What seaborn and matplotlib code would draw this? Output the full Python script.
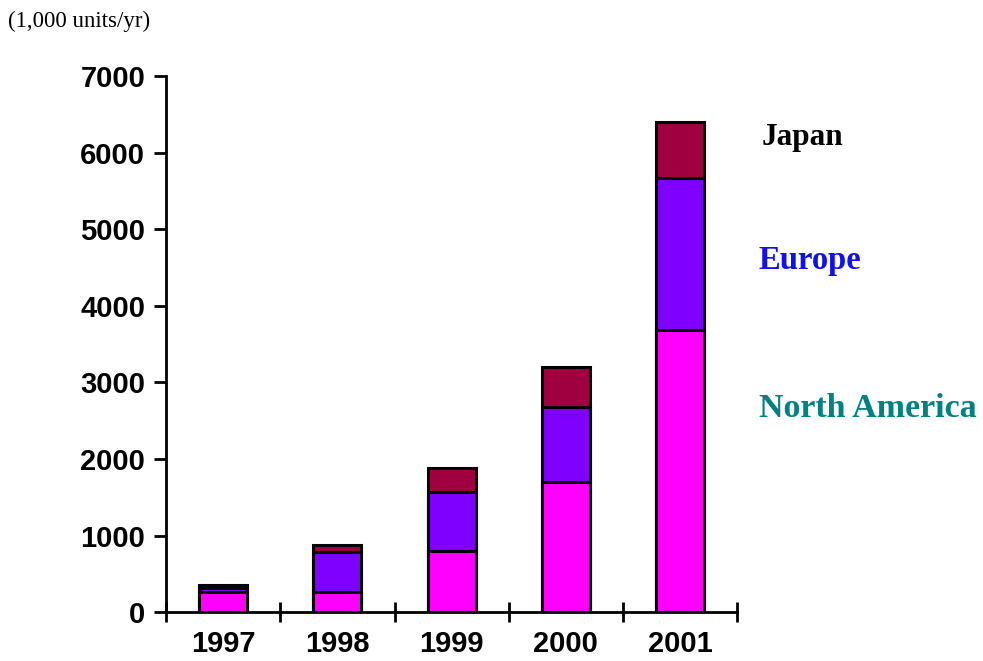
import numpy as np
import pandas as pd
from matplotlib import pyplot as plt
import seaborn as sns

years = ["1997", "1998", "1999", "2000", "2001"]
north_america = [260, 260, 800, 1700, 3680]
europe = [60, 520, 770, 980, 1990]
japan = [40, 90, 310, 520, 730]

sns.set_style("white")
plt.rcParams["font.family"] = ["Liberation Sans", "DejaVu Sans"]

df = pd.DataFrame({"year": years, "na": north_america, "eu": europe, "jp": japan})
df["na_eu"] = df["na"] + df["eu"]
df["total"] = df["na_eu"] + df["jp"]

fig = plt.figure(figsize=(9.83, 6.61), dpi=100)
ax = fig.add_axes([0.169, 0.074, 0.581, 0.811])

# stacked bars by overlaying cumulative totals
for col, color in [("total", "#A0003F"), ("na_eu", "#7F00FF"), ("na", "#FF00FF")]:
    sns.barplot(data=df, x="year", y=col, color=color, saturation=1, width=0.42,
                edgecolor="black", linewidth=2.2, ax=ax)

ax.set_xlim(-0.5, 4.5)
ax.set_ylim(0, 7000)
ax.set_yticks(np.arange(0, 7001, 1000))
ax.set_xlabel("")
ax.set_ylabel("")

for s in ["top", "right"]:
    ax.spines[s].set_visible(False)
for s in ["left", "bottom"]:
    ax.spines[s].set_linewidth(2)
    ax.spines[s].set_color("black")

ax.set_xticks(np.arange(-0.5, 4.6, 1), minor=True)
ax.tick_params(axis="x", which="major", length=0, pad=13, labelcolor="black")
ax.tick_params(axis="x", which="minor", direction="inout", length=14, width=2, color="black")
ax.tick_params(axis="y", which="major", direction="out", length=9, width=2, pad=6,
               color="black", labelcolor="black")
ax.tick_params(axis="y", which="both", left=True)
ax.tick_params(axis="x", which="minor", bottom=True)

for lab in ax.get_xticklabels() + ax.get_yticklabels():
    lab.set_fontsize(21)
    lab.set_fontweight("bold")

fig.text(0.008, 0.968, "(1,000 units/yr)", fontsize=16.5, family="Liberation Serif",
         color="black", va="center")
fig.text(0.775, 0.792, "Japan", fontsize=22.5, fontweight="bold", family="Liberation Serif",
         color="black", va="center")
fig.text(0.772, 0.606, "Europe", fontsize=23.5, fontweight="bold", family="Liberation Serif",
         color="#1010F0", va="center")
fig.text(0.772, 0.382, "North America", fontsize=24.5, fontweight="bold", family="Liberation Serif",
         color="#008080", va="center")

fig.savefig("out.png", dpi=100)
plt.close(fig)
